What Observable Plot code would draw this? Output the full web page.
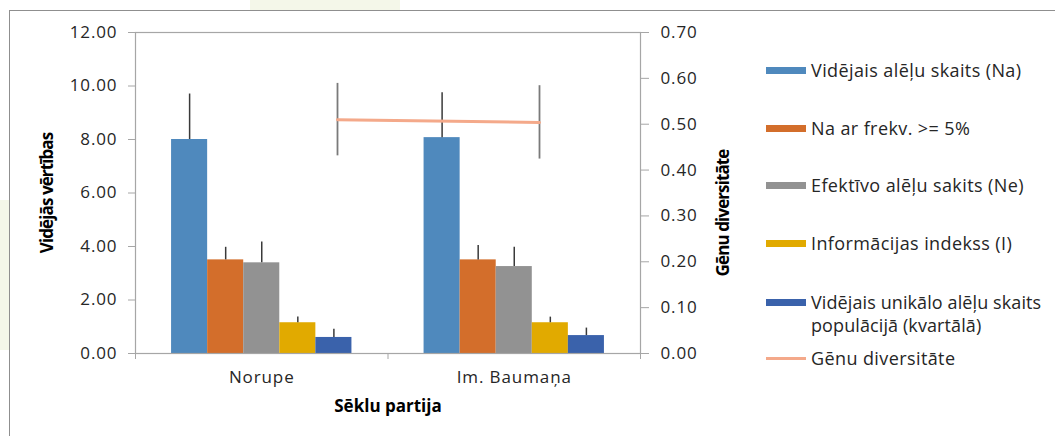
<!DOCTYPE html>
<html>
<head>
<meta charset="utf-8">
<script src="https://cdn.jsdelivr.net/npm/d3@7"></script>
<script src="https://cdn.jsdelivr.net/npm/@observablehq/plot@0.6"></script>
<style>
  body { margin: 0; background: #fff; font-family: "Open Sans", sans-serif; }
  #wrap { position: relative; width: 1055px; height: 436px; overflow: hidden; background: #fff; }
  .deco { position: absolute; background: #f4f7e9; }
  #border { position: absolute; left: 9px; top: 10px; width: 1050px; height: 430px;
            border-left: 1.5px solid #8f8f8f; border-top: 1.5px solid #8f8f8f; }
  #chart { position: absolute; left: 0; top: 0; }
  #legend { position: absolute; left: 766px; top: 59px; font-size: 18px; line-height: 23px;
            letter-spacing: 0.4px; color: #262626; }
  .item { display: flex; align-items: flex-start; margin-bottom: 34.5px; }
  .item:nth-child(4) { margin-bottom: 36px; }
  .item:nth-child(5) { margin-bottom: 10px; }
  .item:nth-child(5) .tx { white-space: pre-line; letter-spacing: 0.1px; }
  .sw { width: 40px; height: 7px; margin-top: 8px; margin-right: 5px; flex: none; }
  .sw.line { height: 3px; margin-top: 10px; }
</style>
</head>
<body>
<div id="wrap">
  <div class="deco" style="left:250px;top:0;width:150px;height:10px;"></div>
  <div class="deco" style="left:0;top:200px;width:9px;height:150px;"></div>
  <div id="border"></div>
  <div id="chart"></div>
  <div id="legend"></div>
</div>
<script>
// ---- data ----
const categories = ["Norupe", "Im. Baumaņa"];
const seriesNames = [
  "Vidējais alēļu skaits (Na)",
  "Na ar frekv. >= 5%",
  "Efektīvo alēļu sakits (Ne)",
  "Informācijas indekss (I)",
  "Vidējais unikālo alēļu skaits populācijā (kvartālā)"
];
const seriesColors = ["#4f89bd", "#d36e2b", "#929292", "#e1aa00", "#3a62ab"];

const meanAlleles      = [8.00, 8.07];
const meanAllelesErr   = [1.70, 1.68];
const alleles5pct      = [3.50, 3.50];
const alleles5pctErr   = [0.47, 0.54];
const effAlleles       = [3.39, 3.25];
const effAllelesErr    = [0.78, 0.72];
const infoIndex        = [1.15, 1.15];
const infoIndexErr     = [0.21, 0.21];
const uniqueAlleles    = [0.60, 0.67];
const uniqueAllelesErr = [0.31, 0.28];

const geneDivName = "Gēnu diversitāte";
const geneDiv     = [0.510, 0.504];
const geneDivErr  = [0.079, 0.080];
const genePos     = [1, 2];      // positions on the secondary category axis
const geneAxisMax = 2.5;         // secondary horizontal axis maximum

const leftTicks  = [0, 2, 4, 6, 8, 10, 12];
const rightTicks = [0, 0.1, 0.2, 0.3, 0.4, 0.5, 0.6, 0.7];

const leftTitle  = "Vidējās vērtības";
const rightTitle = "Gēnu diversitāte";
const xTitle     = "Sēklu partija";

// ---- build tables ----
const seriesValues = [meanAlleles, alleles5pct, effAlleles, infoIndex, uniqueAlleles];
const seriesErrors = [meanAllelesErr, alleles5pctErr, effAllelesErr, infoIndexErr, uniqueAllelesErr];
const nCat = categories.length;
const nSer = seriesNames.length;
const slot = 1 / (nSer + 2);
const leftMax = d3.max(leftTicks);
const rightMax = d3.max(rightTicks);
const k = leftMax / rightMax;

const bars = [];
categories.forEach((c, ci) => {
  seriesNames.forEach((s, si) => {
    const x1 = ci + (si + 1) * slot;
    bars.push({category: c, series: s, x1, x2: x1 + slot, xm: x1 + slot / 2,
               value: seriesValues[si][ci], err: seriesErrors[si][ci]});
  });
});
const gene = categories.map((c, i) => ({
  category: c, x: genePos[i] * nCat / geneAxisMax,
  value: geneDiv[i] * k, lo: (geneDiv[i] - geneDivErr[i]) * k, hi: (geneDiv[i] + geneDivErr[i]) * k
}));

const axisGray = "#a6a6a6";
const textCol = "#262626";

const chart = Plot.plot({
  width: 760,
  height: 436,
  marginLeft: 135,
  marginRight: 120,
  marginTop: 32,
  marginBottom: 83,
  style: {fontFamily: "'Open Sans', sans-serif", fontSize: "17px", background: "transparent", color: textCol},
  x: {domain: [0, nCat], axis: null},
  y: {domain: [0, leftMax], axis: null, label: null},
  color: {domain: seriesNames, range: seriesColors},
  marks: [
    Plot.rect(bars, {x1: "x1", x2: "x2", y1: 0, y2: "value", fill: "series"}),
    Plot.ruleX(bars, {x: "xm", y1: "value", y2: d => d.value + d.err, stroke: "#3a3a3a", strokeWidth: 1.5}),
    Plot.frame({stroke: axisGray, strokeWidth: 1.2}),
    Plot.axisY(leftTicks, {anchor: "left", label: null, tickSize: 7, tickPadding: 11,
      tickFormat: d => d.toFixed(2), stroke: axisGray, fill: textCol, fontSize: 17}),
    Plot.axisY(rightTicks.map(v => v * k), {anchor: "right", label: null, tickSize: 8, tickPadding: 12,
      tickFormat: d => (d / k).toFixed(2), stroke: axisGray, fill: textCol, fontSize: 17}),
    Plot.axisX(d3.range(nCat + 1), {anchor: "bottom", label: null, tickSize: 6, tickFormat: () => "", stroke: axisGray}),
    Plot.axisX(categories.map((c, i) => i + 0.5), {anchor: "bottom", label: null, tickSize: 0, tickPadding: 17,
      tickFormat: d => categories[Math.floor(d)], fill: textCol, fontSize: 17}),
    Plot.ruleX(gene, {x: "x", y1: "lo", y2: "hi", stroke: "#7a7a7a", strokeWidth: 1.8}),
    Plot.line(gene, {x: "x", y: "value", stroke: "#f4a98a", strokeWidth: 3}),
    Plot.text([leftTitle], {frameAnchor: "left", textAnchor: "middle", dx: -88, rotate: -90, fontWeight: "bold", fontSize: 17, fill: "#000"}),
    Plot.text([rightTitle], {frameAnchor: "right", textAnchor: "middle", dx: 83, dy: 20, rotate: -90, fontWeight: "bold", fontSize: 17, fill: "#000"}),
    Plot.text([xTitle], {frameAnchor: "bottom", dy: 58, fontWeight: "bold", fontSize: 17, fill: "#000"})
  ]
});
chart.querySelectorAll("g[aria-label='x-axis tick label'] text, g[aria-label='y-axis tick label'] text")
  .forEach(t => t.style.letterSpacing = "0.9px");
chart.querySelectorAll("g[aria-label='text'] text").forEach(t => {
  if (t.textContent !== xTitle) t.style.letterSpacing = "-0.9px";
});
document.getElementById("chart").appendChild(chart);

// ---- legend ----
const legend = document.getElementById("legend");
seriesNames.forEach((s, i) => {
  const it = document.createElement("div");
  it.className = "item";
  const sw = document.createElement("div");
  sw.className = "sw";
  sw.style.background = seriesColors[i];
  const tx = document.createElement("div");
  tx.className = "tx";
  // the long last label breaks before "populācijā", as in the original legend
  tx.textContent = (i === nSer - 1) ? s.replace(" populācijā", "\npopulācijā") : s;
  it.appendChild(sw); it.appendChild(tx);
  legend.appendChild(it);
});
{
  const it = document.createElement("div");
  it.className = "item";
  const sw = document.createElement("div");
  sw.className = "sw line";
  sw.style.background = "#f4a98a";
  const tx = document.createElement("div");
  tx.className = "tx";
  tx.textContent = geneDivName;
  it.appendChild(sw); it.appendChild(tx);
  legend.appendChild(it);
}
</script>
</body>
</html>
